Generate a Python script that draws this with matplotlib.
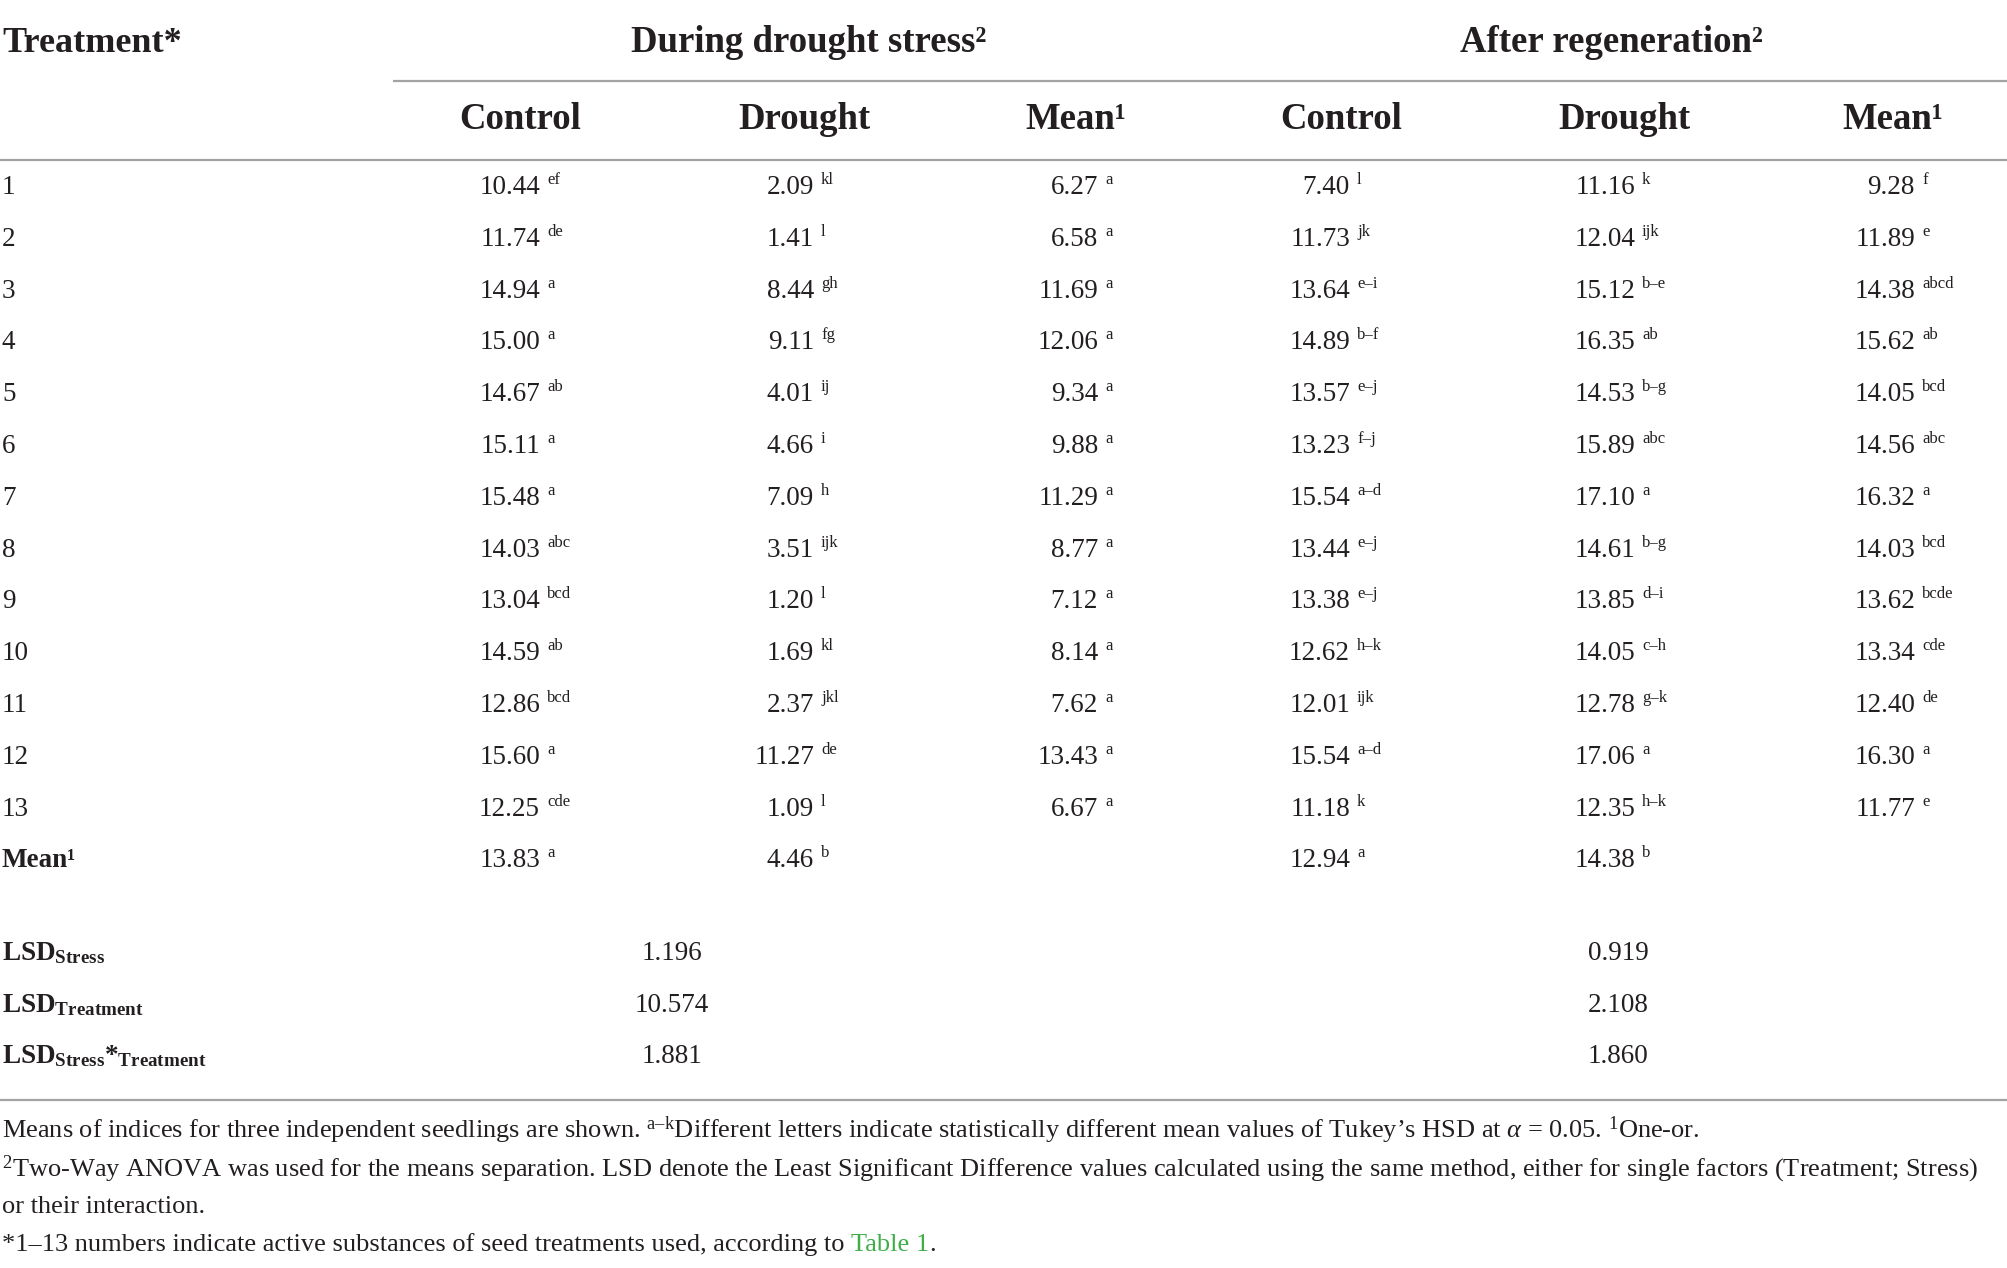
import numpy as np
import matplotlib.pyplot as plt

plt.rcParams['font.family'] = ['Liberation Serif', 'DejaVu Serif']
plt.rcParams['mathtext.fontset'] = 'custom'
plt.rcParams['mathtext.rm'] = 'Liberation Serif'
plt.rcParams['mathtext.it'] = 'Liberation Serif:italic'
plt.rcParams['mathtext.bf'] = 'Liberation Serif:bold'

# Table content
treatments = [str(i) for i in range(1, 14)] + ['Mean¹']

ds_control = ['10.44', '11.74', '14.94', '15.00', '14.67', '15.11', '15.48', '14.03', '13.04', '14.59', '12.86', '15.60', '12.25', '13.83']
ds_control_sig = ['ef', 'de', 'a', 'a', 'ab', 'a', 'a', 'abc', 'bcd', 'ab', 'bcd', 'a', 'cde', 'a']
ds_drought = ['2.09', '1.41', '8.44', '9.11', '4.01', '4.66', '7.09', '3.51', '1.20', '1.69', '2.37', '11.27', '1.09', '4.46']
ds_drought_sig = ['kl', 'l', 'gh', 'fg', 'ij', 'i', 'h', 'ijk', 'l', 'kl', 'jkl', 'de', 'l', 'b']
ds_mean = ['6.27', '6.58', '11.69', '12.06', '9.34', '9.88', '11.29', '8.77', '7.12', '8.14', '7.62', '13.43', '6.67', '']
ds_mean_sig = ['a'] * 13 + ['']

ar_control = ['7.40', '11.73', '13.64', '14.89', '13.57', '13.23', '15.54', '13.44', '13.38', '12.62', '12.01', '15.54', '11.18', '12.94']
ar_control_sig = ['l', 'jk', 'e–i', 'b–f', 'e–j', 'f–j', 'a–d', 'e–j', 'e–j', 'h–k', 'ijk', 'a–d', 'k', 'a']
ar_drought = ['11.16', '12.04', '15.12', '16.35', '14.53', '15.89', '17.10', '14.61', '13.85', '14.05', '12.78', '17.06', '12.35', '14.38']
ar_drought_sig = ['k', 'ijk', 'b–e', 'ab', 'b–g', 'abc', 'a', 'b–g', 'd–i', 'c–h', 'g–k', 'a', 'h–k', 'b']
ar_mean = ['9.28', '11.89', '14.38', '15.62', '14.05', '14.56', '16.32', '14.03', '13.62', '13.34', '12.40', '16.30', '11.77', '']
ar_mean_sig = ['f', 'e', 'abcd', 'ab', 'bcd', 'abc', 'a', 'bcd', 'bcde', 'cde', 'de', 'a', 'e', '']

lsd_labels = [r'LSD$_{\mathbf{Stress}}$', r'LSD$_{\mathbf{Treatment}}$',
              r'LSD$_{\mathbf{Stress}}$*$_{\mathbf{Treatment}}$']
lsd_ds = ['1.196', '10.574', '1.881']
lsd_ar = ['0.919', '2.108', '1.860']

groups = ['During drought stress²', 'After regeneration²']
subheads = ['Control', 'Drought', 'Mean¹', 'Control', 'Drought', 'Mean¹']

footnote1 = (r'Means of indices for three independent seedlings are shown. $^{\mathrm{a–k}}$Different letters '
             r'indicate statistically different mean values of Tukey’s HSD at $\it{\alpha}$ = 0.05. $^{\mathrm{1}}$One-or.')
footnote2 = (r'$^{\mathrm{2}}$Two-Way ANOVA was used for the means separation. LSD denote the Least Significant '
             r'Difference values calculated using the same method, either for single factors (Treatment; Stress)')
footnote3 = 'or their interaction.'
footnote4 = '*1–13 numbers indicate active substances of seed treatments used, according to '

TXT = '#231f20'
RULE = '#a3a3a3'
BODY = 19.5
HEAD = 26.5
SUP = 12

fig = plt.figure(figsize=(20.08, 12.68), dpi=100)
ax = fig.add_axes([0, 0, 1, 1])
ax.set_xlim(0, 2008)
ax.set_ylim(1268, 0)
ax.axis('off')

# header
ax.text(2, 52, 'Treatment*', fontsize=HEAD - 0.5, fontweight='bold', color=TXT, va='baseline')
ax.text(809, 52, groups[0], fontsize=HEAD, fontweight='bold', color=TXT, va='baseline', ha='center')
ax.text(1611, 52, groups[1], fontsize=HEAD, fontweight='bold', color=TXT, va='baseline', ha='center')
ax.plot([393, 2008], [81, 81], color=RULE, lw=1.6, solid_capstyle='butt')

head_x = [520, 804, 1076, 1341, 1624, 1893]
for x, s in zip(head_x, subheads):
    ax.text(x, 129, s, fontsize=HEAD, fontweight='bold', color=TXT, va='baseline', ha='center')
ax.plot([0, 2008], [160, 160], color=RULE, lw=1.6, solid_capstyle='butt')

# body rows
cols = [(ds_control, ds_control_sig), (ds_drought, ds_drought_sig), (ds_mean, ds_mean_sig),
        (ar_control, ar_control_sig), (ar_drought, ar_drought_sig), (ar_mean, ar_mean_sig)]
num_right = [540, 814, 1098, 1350, 1635, 1915]
base0, step = 194, 51.8
for i, t in enumerate(treatments):
    yb = base0 + i * step
    bold = 'bold' if t.startswith('Mean') else 'normal'
    ax.text(2, yb, t, fontsize=BODY, fontweight=bold, color=TXT, va='baseline')
    for xr, (vals, sigs) in zip(num_right, cols):
        if vals[i]:
            ax.text(xr, yb, vals[i], fontsize=BODY, color=TXT, va='baseline', ha='right')
            ax.text(xr + 7, yb - 10, sigs[i], fontsize=SUP, color=TXT, va='baseline', ha='left')

# LSD rows
lsd_base = [960, 1012, 1063]
for yb, lab, a, b in zip(lsd_base, lsd_labels, lsd_ds, lsd_ar):
    ax.text(2, yb, lab, fontsize=BODY, fontweight='bold', color=TXT, va='baseline')
    ax.text(672, yb, a, fontsize=BODY, color=TXT, va='baseline', ha='center')
    ax.text(1618, yb, b, fontsize=BODY, color=TXT, va='baseline', ha='center')
ax.plot([0, 2008], [1100, 1100], color=RULE, lw=1.6, solid_capstyle='butt')

# footnotes
FN = 19
ax.text(2, 1138, footnote1, fontsize=FN, color=TXT, va='baseline')
ax.text(2, 1176, footnote2, fontsize=FN, color=TXT, va='baseline')
ax.text(2, 1213, footnote3, fontsize=FN, color=TXT, va='baseline')
t4 = ax.text(2, 1251, footnote4, fontsize=FN, color=TXT, va='baseline')
fig.canvas.draw()
bb = t4.get_window_extent()
x_end = ax.transData.inverted().transform((bb.x1, bb.y0))[0]
t5 = ax.text(x_end, 1251, 'Table 1', fontsize=FN, color='#3fae49', va='baseline')
bb = t5.get_window_extent()
x_end = ax.transData.inverted().transform((bb.x1, bb.y0))[0]
ax.text(x_end, 1251, '.', fontsize=FN, color=TXT, va='baseline')

fig.savefig('out.png', dpi=100, facecolor='white')
